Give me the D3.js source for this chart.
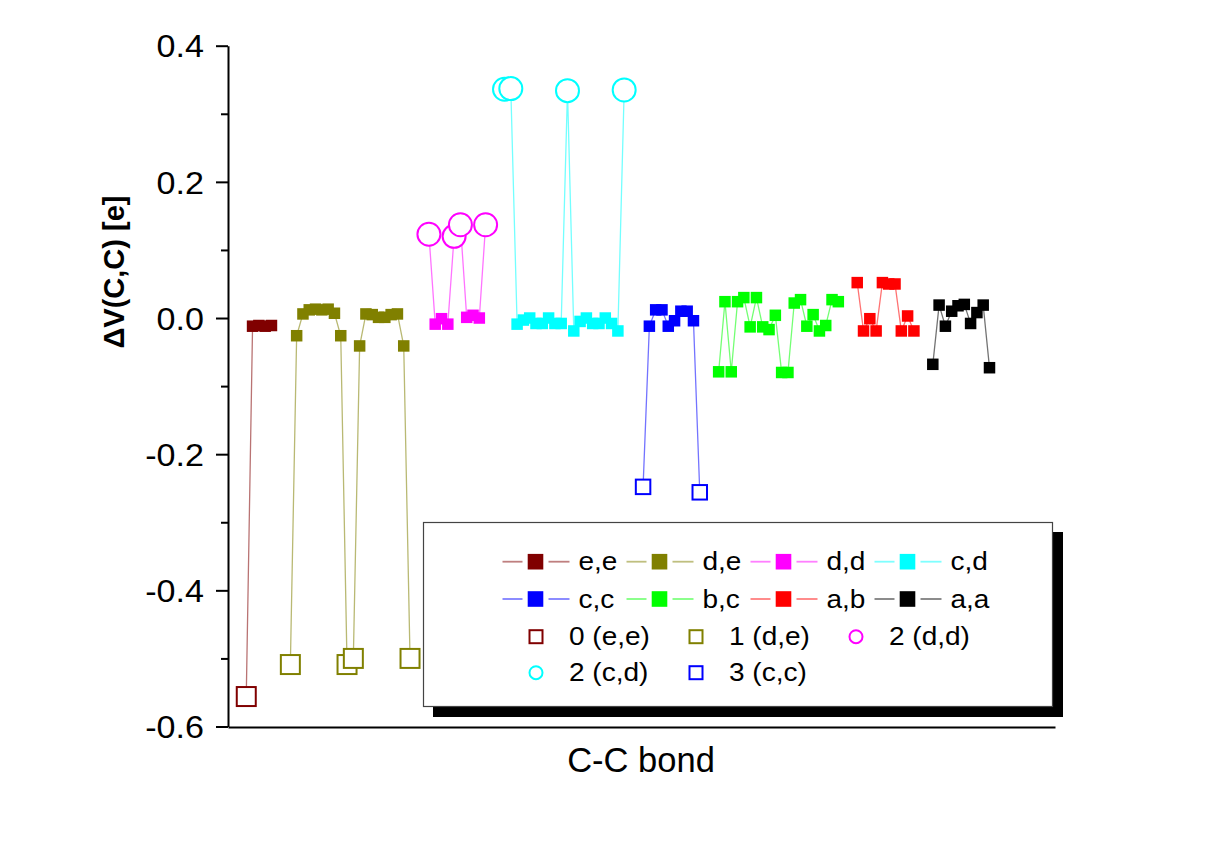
<!DOCTYPE html>
<html>
<head>
<meta charset="utf-8">
<script src="https://cdn.jsdelivr.net/npm/d3@7"></script>
<style>
  html, body { margin: 0; padding: 0; background: #ffffff; }
  svg { display: block; font-family: "Liberation Sans", Arial, sans-serif; }
</style>
</head>
<body>
<svg id="chart" width="1208" height="845"></svg>
<script>
// ---------------- data ----------------
const seriesNames = ["e,e", "d,e", "d,d", "c,d", "c,c", "b,c", "a,b", "a,a"];
const seriesColors = ["#800000", "#808000", "#ff00ff", "#00ffff", "#0000ff", "#00ff00", "#ff0000", "#000000"];
// bond index (position along the C-C bond axis) of the first point of each series
const seriesStart = [0, 7, 29, 41, 63, 75, 97, 109];

const valuesEE = [-0.556, -0.012, -0.011, -0.012, -0.011];
const valuesDE = [-0.509, -0.026, 0.006, 0.012, 0.013, 0.012, 0.013, 0.007, -0.026, -0.509,
                  -0.500, -0.041, 0.006, 0.005, 0.001, 0.001, 0.005, 0.006, -0.041, -0.500];
const valuesDD = [0.123, -0.009, -0.001, -0.009, 0.120, 0.137, 0.001, 0.004, 0.000, 0.137];
const valuesCD = [0.336, 0.337, -0.009, -0.003, 0.000, -0.008, -0.008, 0.000, -0.008, -0.008,
                  0.334, -0.019, -0.005, 0.000, -0.008, -0.008, 0.000, -0.008, -0.019, 0.335];
const valuesCC = [-0.248, -0.012, 0.012, 0.012, -0.012, -0.004, 0.010, 0.010, -0.004, -0.256];
const valuesBC = [-0.079, 0.024, -0.079, 0.024, 0.030, -0.013, 0.030, -0.013, -0.017, 0.004,
                  -0.080, -0.080, 0.022, 0.027, -0.012, 0.005, -0.019, -0.011, 0.027, 0.024];
const valuesAB = [0.052, -0.019, -0.001, -0.019, 0.052, 0.050, 0.050, -0.019, 0.003, -0.019];
const valuesAA = [-0.068, 0.019, -0.012, 0.010, 0.018, 0.020, -0.008, 0.008, 0.019, -0.073];
const seriesValues = [valuesEE, valuesDE, valuesDD, valuesCD, valuesCC, valuesBC, valuesAB, valuesAA];

// highlighted bonds (open markers)
const highlightNames = ["0 (e,e)", "1 (d,e)", "2 (d,d)", "2 (c,d)", "3 (c,c)"];
const highlightSeries = [0, 1, 2, 3, 4];
const highlightShape = ["square", "square", "circle", "circle", "smallsquare"];
const highlightBonds = [[0], [7, 16, 17, 26], [29, 33, 34, 38], [41, 42, 51, 60], [63, 72]];

const yTicks = [-0.6, -0.4, -0.2, 0.0, 0.2, 0.4];
const yTickLabels = ["-0.6", "-0.4", "-0.2", "0.0", "0.2", "0.4"];
const yMinorTicks = [-0.5, -0.3, -0.1, 0.1, 0.3];
const xLabel = "C-C bond";
const yLabel = "ΔV(C,C) [e]";

// ---------------- drawing ----------------
const svg = d3.select("#chart");
svg.append("rect").attr("width", 1208).attr("height", 845).attr("fill", "#ffffff");

const x = d3.scaleLinear().domain([-2.9, 128.4]).range([228, 1055]);
const y = d3.scaleLinear().domain([-0.6, 0.4]).range([726.5, 45.7]);

const series = seriesNames.map((name, s) => ({
  name, color: seriesColors[s],
  points: seriesValues[s].map((v, k) => ({ i: seriesStart[s] + k, v }))
}));

function valueAt(s, bond) {
  return seriesValues[s][bond - seriesStart[s]];
}

const plot = svg.append("g");
const line = d3.line().x(d => x(d.i)).y(d => y(d.v));

// connecting lines
plot.selectAll("path.series").data(series).join("path")
  .attr("class", "series")
  .attr("d", d => line(d.points))
  .attr("fill", "none")
  .attr("stroke", d => d.color)
  .attr("stroke-opacity", 0.55)
  .attr("stroke-width", 1.3);

// filled square markers
const ms = 11.5;
series.forEach(sr => {
  plot.append("g").selectAll("rect").data(sr.points).join("rect")
    .attr("x", d => x(d.i) - ms / 2)
    .attr("y", d => y(d.v) - ms / 2)
    .attr("width", ms).attr("height", ms)
    .attr("fill", sr.color);
});

// open markers (white filled)
highlightNames.forEach((hn, h) => {
  const s = highlightSeries[h];
  const color = seriesColors[s];
  const pts = highlightBonds[h].map(b => ({ i: b, v: valueAt(s, b) }));
  const g = plot.append("g");
  if (highlightShape[h] === "circle") {
    g.selectAll("circle").data(pts).join("circle")
      .attr("cx", d => x(d.i)).attr("cy", d => y(d.v)).attr("r", 11.5)
      .attr("fill", "#ffffff").attr("stroke", color).attr("stroke-width", 2);
  } else {
    const sz = highlightShape[h] === "square" ? 19 : 14.5;
    g.selectAll("rect").data(pts).join("rect")
      .attr("x", d => x(d.i) - sz / 2).attr("y", d => y(d.v) - sz / 2)
      .attr("width", sz).attr("height", sz)
      .attr("fill", "#ffffff").attr("stroke", color).attr("stroke-width", 2);
  }
});

// axes
const yAxis = svg.append("g").attr("transform", "translate(228,0)")
  .call(d3.axisLeft(y).tickValues(yTicks).tickFormat((d, i) => yTickLabels[i])
    .tickSize(12).tickSizeOuter(0).tickPadding(12));
yAxis.select(".domain").attr("stroke", "#000").attr("stroke-width", 2);
yAxis.selectAll(".tick line").attr("stroke", "#000").attr("stroke-width", 2);
yAxis.selectAll(".tick text")
  .attr("x", null).attr("dy", "0.36em")
  .attr("transform", "translate(-24,0) scale(1.1,1)")
  .attr("text-anchor", "end")
  .attr("font-size", 31).attr("font-family", "'Liberation Sans', Arial, sans-serif")
  .attr("fill", "#000");

const yMinor = svg.append("g").attr("transform", "translate(228,0)")
  .call(d3.axisLeft(y).tickValues(yMinorTicks).tickFormat("").tickSize(7).tickSizeOuter(0));
yMinor.select(".domain").remove();
yMinor.selectAll(".tick line").attr("stroke", "#000").attr("stroke-width", 2);

const xAxis = svg.append("g").attr("transform", "translate(0,727)")
  .call(d3.axisBottom(x).tickValues([]).tickSizeOuter(0));
xAxis.select(".domain").attr("stroke", "#000").attr("stroke-width", 2);

// axis titles
svg.append("text").attr("x", 641).attr("y", 772)
  .attr("text-anchor", "middle").attr("font-size", 34.5).attr("fill", "#000")
  .text(xLabel);
svg.append("text")
  .attr("transform", "translate(124,272) rotate(-90)")
  .attr("text-anchor", "middle").attr("font-size", 29).attr("font-weight", "bold").attr("fill", "#000")
  .text(yLabel);

// legend
const lg = svg.append("g");
lg.append("rect").attr("x", 433).attr("y", 532).attr("width", 630).attr("height", 185).attr("fill", "#000");
lg.append("rect").attr("x", 423.5).attr("y", 522.5).attr("width", 629).attr("height", 184)
  .attr("fill", "#ffffff").attr("stroke", "#444").attr("stroke-width", 1.2);

const rowY = [561.7, 599, 636.7, 672.7];
seriesNames.forEach((name, s) => {
  const row = Math.floor(s / 4), col = s % 4;
  const x0 = 502.5 + col * 124, yy = rowY[row];
  const c = seriesColors[s];
  lg.append("line").attr("x1", x0).attr("x2", x0 + 20).attr("y1", yy).attr("y2", yy)
    .attr("stroke", c).attr("stroke-opacity", 0.5).attr("stroke-width", 1.8);
  lg.append("line").attr("x1", x0 + 46).attr("x2", x0 + 67).attr("y1", yy).attr("y2", yy)
    .attr("stroke", c).attr("stroke-opacity", 0.5).attr("stroke-width", 1.8);
  lg.append("rect").attr("x", x0 + 33 - 7.8).attr("y", yy - 7.8).attr("width", 15.6).attr("height", 15.6)
    .attr("fill", c);
  lg.append("text").attr("transform", `translate(${x0 + 76},${yy + 8.6}) scale(1.12,1)`)
    .attr("font-size", 25).attr("fill", "#000").text(name);
});

highlightNames.forEach((hn, h) => {
  const row = 2 + Math.floor(h / 3), col = h % 3;
  const cx = 536 + col * 160, yy = rowY[row];
  const c = seriesColors[highlightSeries[h]];
  if (highlightShape[h] === "circle") {
    lg.append("circle").attr("cx", cx).attr("cy", yy).attr("r", 6.5)
      .attr("fill", "#fff").attr("stroke", c).attr("stroke-width", 2);
  } else {
    lg.append("rect").attr("x", cx - 6.5).attr("y", yy - 6.5).attr("width", 13).attr("height", 13)
      .attr("fill", "#fff").attr("stroke", c).attr("stroke-width", 2);
  }
  lg.append("text").attr("transform", `translate(${cx + 33},${yy + 8.6}) scale(1.12,1)`)
    .attr("font-size", 25).attr("fill", "#000").text(hn);
});
</script>
</body>
</html>
